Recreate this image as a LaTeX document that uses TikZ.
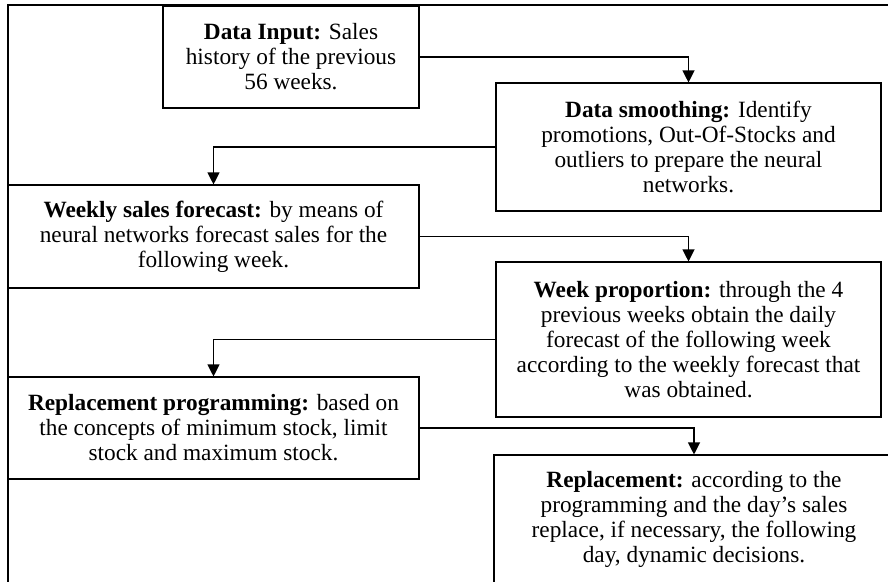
\documentclass[tikz,border=0pt]{standalone}
\usepackage{fontspec}
\setmainfont{Liberation Serif}
\usetikzlibrary{arrows.meta}
\begin{document}
\begin{tikzpicture}[x=1pt,y=-1pt,
  stepbox/.style={draw, line width=1.1pt, rectangle, inner sep=0pt, align=center,
    font=\fontsize{23.3}{25}\selectfont},
  link/.style={line width=1.1pt, -{Triangle[length=12pt,width=12pt]}},
  frame/.style={line width=1.1pt}]
\useasboundingbox (0,0) rectangle (888,581);
\clip (0,0) rectangle (888,581);
\fill[white] (0,0) rectangle (888,581);
% outer frame
\coordinate (ftr) at (900,5);
\coordinate (ftl) at (8,5);
\coordinate (fbl) at (8,600);
\draw[frame] (ftr) -- (ftl) -- (fbl);
% boxes
\node[stepbox, minimum width=256pt, minimum height=102pt] (b1) at (291,57)
  {\textbf{Data Input:} Sales\\history of the previous\\56 weeks.};
\node[stepbox, minimum width=385pt, minimum height=128pt] (b2) at (688.5,147)
  {\textbf{Data smoothing:} Identify\\promotions, Out-Of-Stocks and\\outliers to prepare the neural\\networks.};
\node[stepbox, minimum width=411pt, minimum height=103pt] (b3) at (213.5,236.5)
  {\textbf{Weekly sales forecast:} by means of\\neural networks forecast sales for the\\following week.};
\node[stepbox, minimum width=385pt, minimum height=155pt] (b4) at (688.5,339.5)
  {\textbf{Week proportion:} through the 4\\previous weeks obtain the daily\\forecast of the following week\\according to the weekly forecast that\\was obtained.};
\node[stepbox, minimum width=411pt, minimum height=102pt] (b5) at (213.5,428)
  {\textbf{Replacement programming:} based on\\the concepts of minimum stock, limit\\stock and maximum stock.};
\node[stepbox, minimum width=400pt, minimum height=129pt] (b6) at (694,519.5)
  {\textbf{Replacement:} according to the\\programming and the day’s sales\\replace, if necessary, the following\\day, dynamic decisions.};
% connectors
\draw[link] (b1.east) -| (b2.north);
\draw[link] (b2.west) -| (b3.north);
\draw[link] (b3.east) -| (b4.north);
\draw[link] (b4.west) -| (b5.north);
\draw[link] (b5.east) -| (b6.north);
\end{tikzpicture}
\end{document}
